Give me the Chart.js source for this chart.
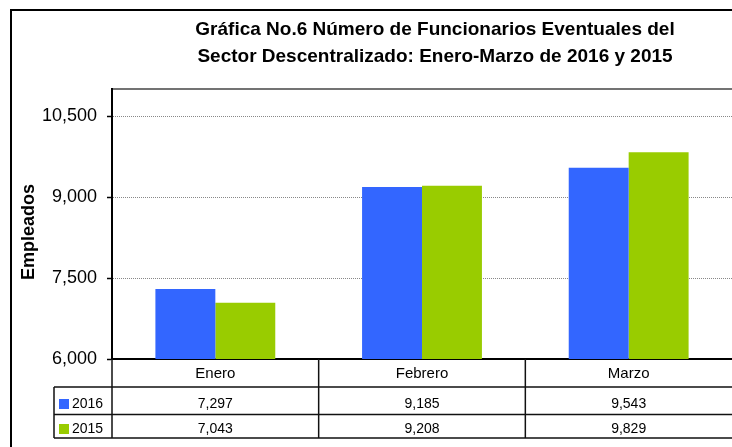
<!DOCTYPE html>
<html>
<head>
<meta charset="utf-8">
<script src="https://cdn.jsdelivr.net/npm/chart.js@4.4.0/dist/chart.umd.min.js"></script>
<style>
  html, body { margin: 0; padding: 0; background: #fff; overflow: hidden; }
  #wrap { position: relative; width: 732px; height: 447px; }
</style>
</head>
<body>
<div id="wrap"><canvas id="myChart"></canvas></div>
<script>
var months = ["Enero", "Febrero", "Marzo"];
var seriesNames = ["2016", "2015"];
var values2016 = [7297, 9185, 9543];
var values2015 = [7043, 9208, 9829];
var yTicks = [6000, 7500, 9000, 10500];
var titleLines = [
    "Gráfica No.6 Número de Funcionarios Eventuales del",
    "Sector Descentralizado: Enero-Marzo de 2016 y 2015"
];
var yTitle = "Empleados";

var barColors = ["#3366ff", "#99cc00"];
var fontFamily = "'Liberation Sans', Arial, sans-serif";

function fmt(v) {
    return v.toLocaleString('en-US');
}

// frame, titles and the data table under the x axis
const tablePlugin = {
    id: 'dataTable',
    beforeDraw(chart) {
        const c = chart.ctx;
        const area = chart.chartArea;
        c.save();
        c.strokeStyle = '#000';
        c.lineWidth = 2;
        c.beginPath();
        c.moveTo(11, chart.height);
        c.lineTo(11, 10);
        c.lineTo(chart.width, 10);
        c.stroke();

        c.fillStyle = '#000';
        c.font = 'bold 19px ' + fontFamily;
        c.textAlign = 'center';
        c.fillText(titleLines[0], 435, 35);
        c.fillText(titleLines[1], 435, 62);

        // axis title, sits a little below the middle of the plot
        c.save();
        c.translate(34, (area.top + area.bottom) / 2 + 8);
        c.rotate(-Math.PI / 2);
        c.font = 'bold 18px ' + fontFamily;
        c.fillText(yTitle, 0, 0);
        c.restore();

        // top edge of the plot
        c.strokeStyle = '#444';
        c.lineWidth = 1.5;
        c.beginPath();
        c.moveTo(area.left, area.top);
        c.lineTo(area.right, area.top);
        c.stroke();
        c.restore();
    },
    afterDraw(chart) {
        const c = chart.ctx;
        const area = chart.chartArea;
        const x = chart.scales.x;
        const step = x.getPixelForValue(1) - x.getPixelForValue(0);
        const rows = [area.bottom + 28, area.bottom + 55.5, area.bottom + 79];
        const legendLeft = 54;
        const series = [values2016, values2015];

        c.save();
        c.strokeStyle = '#111';
        c.lineWidth = 1.5;
        c.beginPath();
        rows.forEach(function (y) {
            c.moveTo(legendLeft, y);
            c.lineTo(area.right, y);
        });
        c.moveTo(legendLeft, rows[0]);
        c.lineTo(legendLeft, rows[2]);
        c.moveTo(area.left, area.bottom);
        c.lineTo(area.left, rows[2]);
        for (let i = 0; i < months.length - 1; i++) {
            const bx = x.getPixelForValue(i) + step / 2;
            c.moveTo(bx, area.bottom);
            c.lineTo(bx, rows[2]);
        }
        c.stroke();

        c.fillStyle = '#000';
        c.textAlign = 'center';
        c.font = '15px ' + fontFamily;
        months.forEach(function (m, i) {
            c.fillText(m, x.getPixelForValue(i), area.bottom + 19);
        });

        c.font = '14px ' + fontFamily;
        const baselines = [area.bottom + 49, area.bottom + 74];
        series.forEach(function (vals, s) {
            vals.forEach(function (v, i) {
                c.fillText(fmt(v), x.getPixelForValue(i), baselines[s]);
            });
        });

        // legend keys in the first column
        c.textAlign = 'left';
        seriesNames.forEach(function (name, s) {
            c.fillStyle = barColors[s];
            c.fillRect(59, baselines[s] - 9, 10, 10);
            c.fillStyle = '#000';
            c.fillText(name, 72, baselines[s]);
        });
        c.restore();
    }
};

const ctx = document.getElementById('myChart');

const chart = new Chart(ctx, {
    type: 'bar',
    data: {
        labels: months,
        datasets: [
            { label: seriesNames[0], data: values2016, backgroundColor: barColors[0] },
            { label: seriesNames[1], data: values2015, backgroundColor: barColors[1] }
        ]
    },
    options: {
        responsive: true,
        maintainAspectRatio: false,
        animation: false,
        layout: {
            padding: { top: 89, bottom: 88, left: 0, right: 0 }
        },
        datasets: {
            bar: { categoryPercentage: 0.58, barPercentage: 1 }
        },
        scales: {
            x: {
                grid: { display: false, drawTicks: false },
                ticks: { display: false },
                border: { color: '#000', width: 2 }
            },
            y: {
                min: 6000,
                max: 11000,
                afterBuildTicks: function (axis) {
                    axis.ticks = yTicks.map(function (v) { return { value: v }; });
                },
                afterFit: function (axis) {
                    axis.width = 112;
                },
                ticks: {
                    color: '#000',
                    padding: 10,
                    font: { family: fontFamily, size: 18 },
                    callback: function (v) { return fmt(v); }
                },
                grid: {
                    color: '#888',
                    lineWidth: 1,
                    tickLength: 5,
                    tickColor: '#000',
                    tickWidth: 1.5
                },
                border: { color: '#000', width: 2, dash: [1, 1] }
            }
        },
        plugins: {
            legend: { display: false },
            tooltip: { enabled: false }
        }
    },
    plugins: [tablePlugin]
});
</script>
</body>
</html>
